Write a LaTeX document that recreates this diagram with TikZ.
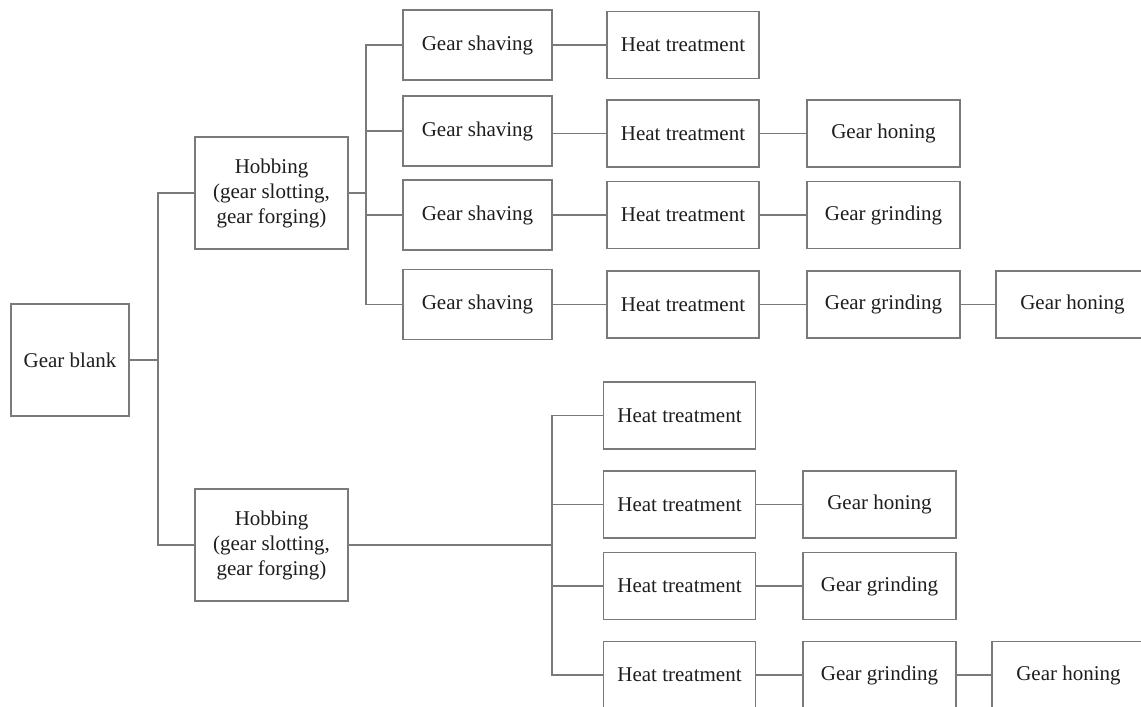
\documentclass[tikz,border=0pt]{standalone}
\usepackage{fontspec}
\setmainfont{Liberation Serif}
\definecolor{linegray}{HTML}{7A7A7A}
\definecolor{txt}{HTML}{1E1E1E}
\tikzset{
  procbox/.style={draw=linegray, line width=1.4pt, fill=white, text=txt,
    font=\fontsize{21}{25}\selectfont, inner sep=0pt, align=center},
  blankbox/.style={procbox, minimum width=118pt, minimum height=112pt},
  hobbox/.style={procbox, minimum width=153pt, minimum height=112pt},
  shavebox/.style={procbox, minimum width=149pt, minimum height=70pt},
  heatbox/.style={procbox, minimum width=152pt, minimum height=67pt},
  endbox/.style={procbox, minimum width=153pt, minimum height=67pt},
  link/.style={draw=linegray, line width=1.4pt}
}
\begin{document}
\begin{tikzpicture}[x=1pt,y=-1pt]
\useasboundingbox (0,0) rectangle (1141,707);
\clip (0,0) rectangle (1141,707);
\fill[white] (0,0) rectangle (1141,707);

% root and hobbing
\node[blankbox] (blank) at (70,360) {Gear blank};
\node[hobbox] (hob1) at (271.5,193) {Hobbing\\(gear slotting,\\gear forging)};
\node[hobbox] (hob2) at (271.5,545) {Hobbing\\(gear slotting,\\gear forging)};

\coordinate (j1) at (158,360);
\coordinate (j2) at (366,193);
\coordinate (j3) at (552,545);

% upper group
\node[shavebox] (s1) at (477.5,45) {Gear shaving};
\node[shavebox] (s2) at (477.5,131) {Gear shaving};
\node[shavebox] (s3) at (477.5,215) {Gear shaving};
\node[shavebox] (s4) at (477.5,304.5) {Gear shaving};

\node[heatbox] (h1) at (683,45) {Heat treatment};
\node[heatbox] (h2) at (683,133.5) {Heat treatment};
\node[heatbox] (h3) at (683,215) {Heat treatment};
\node[heatbox] (h4) at (683,304.5) {Heat treatment};

\node[endbox] (u2) at (883.5,133.5) {Gear honing};
\node[endbox] (u3) at (883.5,215) {Gear grinding};
\node[endbox] (u4) at (883.5,304.5) {Gear grinding};
\node[endbox] (u5) at (1072.5,304.5) {Gear honing};

% lower group
\node[heatbox] (b1) at (679.5,415.5) {Heat treatment};
\node[heatbox] (b2) at (679.5,504.5) {Heat treatment};
\node[heatbox] (b3) at (679.5,586) {Heat treatment};
\node[heatbox] (b4) at (679.5,675) {Heat treatment};

\node[endbox] (l2) at (879.5,504.5) {Gear honing};
\node[endbox] (l3) at (879.5,586) {Gear grinding};
\node[endbox] (l4) at (879.5,675) {Gear grinding};
\node[endbox] (l5) at (1068.5,675) {Gear honing};

% connectors: trunk
\draw[link] (blank.east) -- (j1);
\draw[link] (hob1.west) -| (j1);
\draw[link] (hob2.west) -| (j1);

% upper branch
\draw[link] (hob1.east) -- (j2);
\draw[link] (s1.west) -| (j2);
\draw[link] (s2.west) -| (j2);
\draw[link] (s3.west) -| (j2);
\draw[link] (s4.west) -| (j2);

\draw[link] (s1.east) -- (h1.west);
\draw[link] (h2.west -| s2.east) -- (h2.west);
\draw[link] (s3.east) -- (h3.west);
\draw[link] (s4.east) -- (h4.west);

\draw[link] (h2.east) -- (u2.west);
\draw[link] (h3.east) -- (u3.west);
\draw[link] (h4.east) -- (u4.west);
\draw[link] (u4.east) -- (u5.west);

% lower branch
\draw[link] (hob2.east) -- (j3);
\draw[link] (b1.west) -| (j3);
\draw[link] (b2.west) -| (j3);
\draw[link] (b3.west) -| (j3);
\draw[link] (b4.west) -| (j3);

\draw[link] (b2.east) -- (l2.west);
\draw[link] (b3.east) -- (l3.west);
\draw[link] (b4.east) -- (l4.west);
\draw[link] (l4.east) -- (l5.west);
\end{tikzpicture}
\end{document}
